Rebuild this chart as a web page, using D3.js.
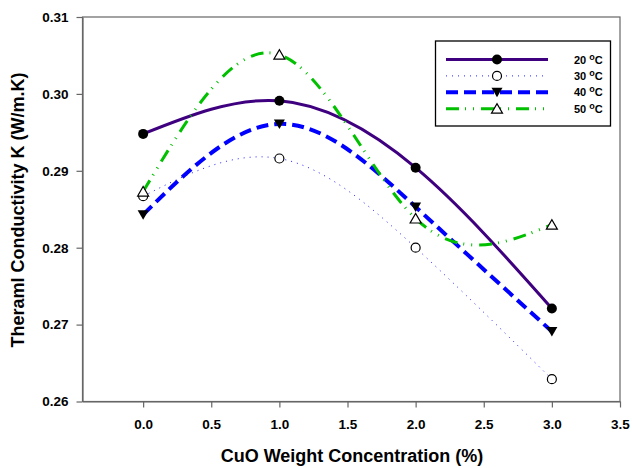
<!DOCTYPE html>
<html><head><meta charset="utf-8">
<script src="https://cdn.jsdelivr.net/npm/d3@7"></script>
<style>body{margin:0;background:#fff}svg{display:block}text{font-family:"Liberation Sans",Arial,sans-serif;font-weight:bold}</style>
</head><body><svg id="c" width="632" height="468"></svg>
<script>
const concentrations = [0, 1, 2, 3];
const k20 = [0.2948, 0.2991, 0.2904, 0.2721];
const k30 = [0.2867, 0.2916, 0.2800, 0.2629];
const k40 = [0.2843, 0.2961, 0.2853, 0.2691];
const k50 = [0.2873, 0.3051, 0.2838, 0.2830];
const seriesNames = ["20", "30", "40", "50"];
const xTicks = [0, 0.5, 1, 1.5, 2, 2.5, 3, 3.5];
const yTicks = [0.26, 0.27, 0.28, 0.29, 0.30, 0.31];

const svg = d3.select("#c");
const L = 82.5, R = 620, T = 17, B = 401.5;
const x = d3.scaleLinear().domain([-0.445, 3.5]).range([L, R]);
const y = d3.scaleLinear().domain([0.26, 0.31]).range([B, T]);

const styles = [
  {vals: k20, color: "#3f0080", width: 3, dash: null, marker: "dot"},
  {vals: k30, color: "#2020ff", width: 1, dash: "1,5", marker: "circle"},
  {vals: k40, color: "#0000ff", width: 4, dash: "12,6", marker: "down"},
  {vals: k50, color: "#00c000", width: 3, dash: "13,6,1,7,1,7", marker: "up"}
];

svg.append("rect").attr("x", L).attr("y", T).attr("width", R - L).attr("height", B - T)
  .attr("fill", "none").attr("stroke", "#666").attr("stroke-width", 1.2);

const xAxis = svg.append("g").attr("transform", `translate(0,${B})`)
  .call(d3.axisBottom(x).tickValues(xTicks).tickFormat(d3.format(".1f")).tickSize(6).tickSizeOuter(0));
const yAxis = svg.append("g").attr("transform", `translate(${L},0)`)
  .call(d3.axisLeft(y).tickValues(yTicks).tickFormat(d3.format(".2f")).tickSize(6).tickSizeOuter(0));
[xAxis, yAxis].forEach(g => {
  g.select(".domain").attr("stroke", "#666").attr("stroke-width", 1.2);
  g.selectAll(".tick line").attr("stroke", "#666").attr("stroke-width", 1.2);
  g.selectAll("text").attr("fill", "#000").style("font-size", "13.5px").style("font-family", "Liberation Sans, Arial").style("font-weight", "bold");
});
xAxis.selectAll("text").attr("dy", "1.4em");
yAxis.selectAll("text").attr("x", -14);

svg.append("text").attr("x", 352).attr("y", 462).attr("text-anchor", "middle")
  .style("font-size", "18px").text("CuO Weight Concentration (%)");
svg.append("text").attr("transform", "translate(24,210) rotate(-90)").attr("text-anchor", "middle")
  .style("font-size", "18px").text("Theraml Conductivity K (W/m.K)");

const line = d3.line().x((d, i) => x(concentrations[i])).y(d => y(d)).curve(d3.curveNatural);

function marker(g, type, cx, cy) {
  if (type === "dot") g.append("circle").attr("cx", cx).attr("cy", cy).attr("r", 5).attr("fill", "#000");
  else if (type === "circle") g.append("circle").attr("cx", cx).attr("cy", cy).attr("r", 4.5).attr("fill", "#fff").attr("stroke", "#000").attr("stroke-width", 1.2);
  else if (type === "down") g.append("path").attr("d", `M${cx-5.5},${cy-4.5}L${cx+5.5},${cy-4.5}L${cx},${cy+5}Z`).attr("fill", "#000");
  else g.append("path").attr("d", `M${cx-5.5},${cy+4.5}L${cx+5.5},${cy+4.5}L${cx},${cy-5}Z`).attr("fill", "#fff").attr("stroke", "#000").attr("stroke-width", 1.2);
}

const plot = svg.append("g");
styles.forEach(s => {
  plot.append("path").attr("d", line(s.vals)).attr("fill", "none").attr("stroke", s.color)
    .attr("stroke-width", s.width).attr("stroke-dasharray", s.dash);
});
styles.forEach(s => {
  s.vals.forEach((v, i) => marker(plot, s.marker, x(concentrations[i]), y(v)));
});

const lg = svg.append("g");
lg.append("rect").attr("x", 435.5).attr("y", 41).attr("width", 175).attr("height", 85)
  .attr("fill", "#fff").attr("stroke", "#000").attr("stroke-width", 1.3);
styles.forEach((s, i) => {
  const ly = 59.5 + i * 16.4;
  lg.append("line").attr("x1", 446).attr("x2", 548).attr("y1", ly).attr("y2", ly)
    .attr("stroke", s.color).attr("stroke-width", s.width).attr("stroke-dasharray", s.dash);
  marker(lg, s.marker, 497, ly);
  const t = lg.append("text").attr("x", 574).attr("y", ly + 4).style("font-size", "11px");
  t.append("tspan").text(seriesNames[i] + " ");
  t.append("tspan").attr("dy", -4).style("font-size", "9px").text("o");
  t.append("tspan").attr("dy", 4).text("C");
});
</script></body></html>
